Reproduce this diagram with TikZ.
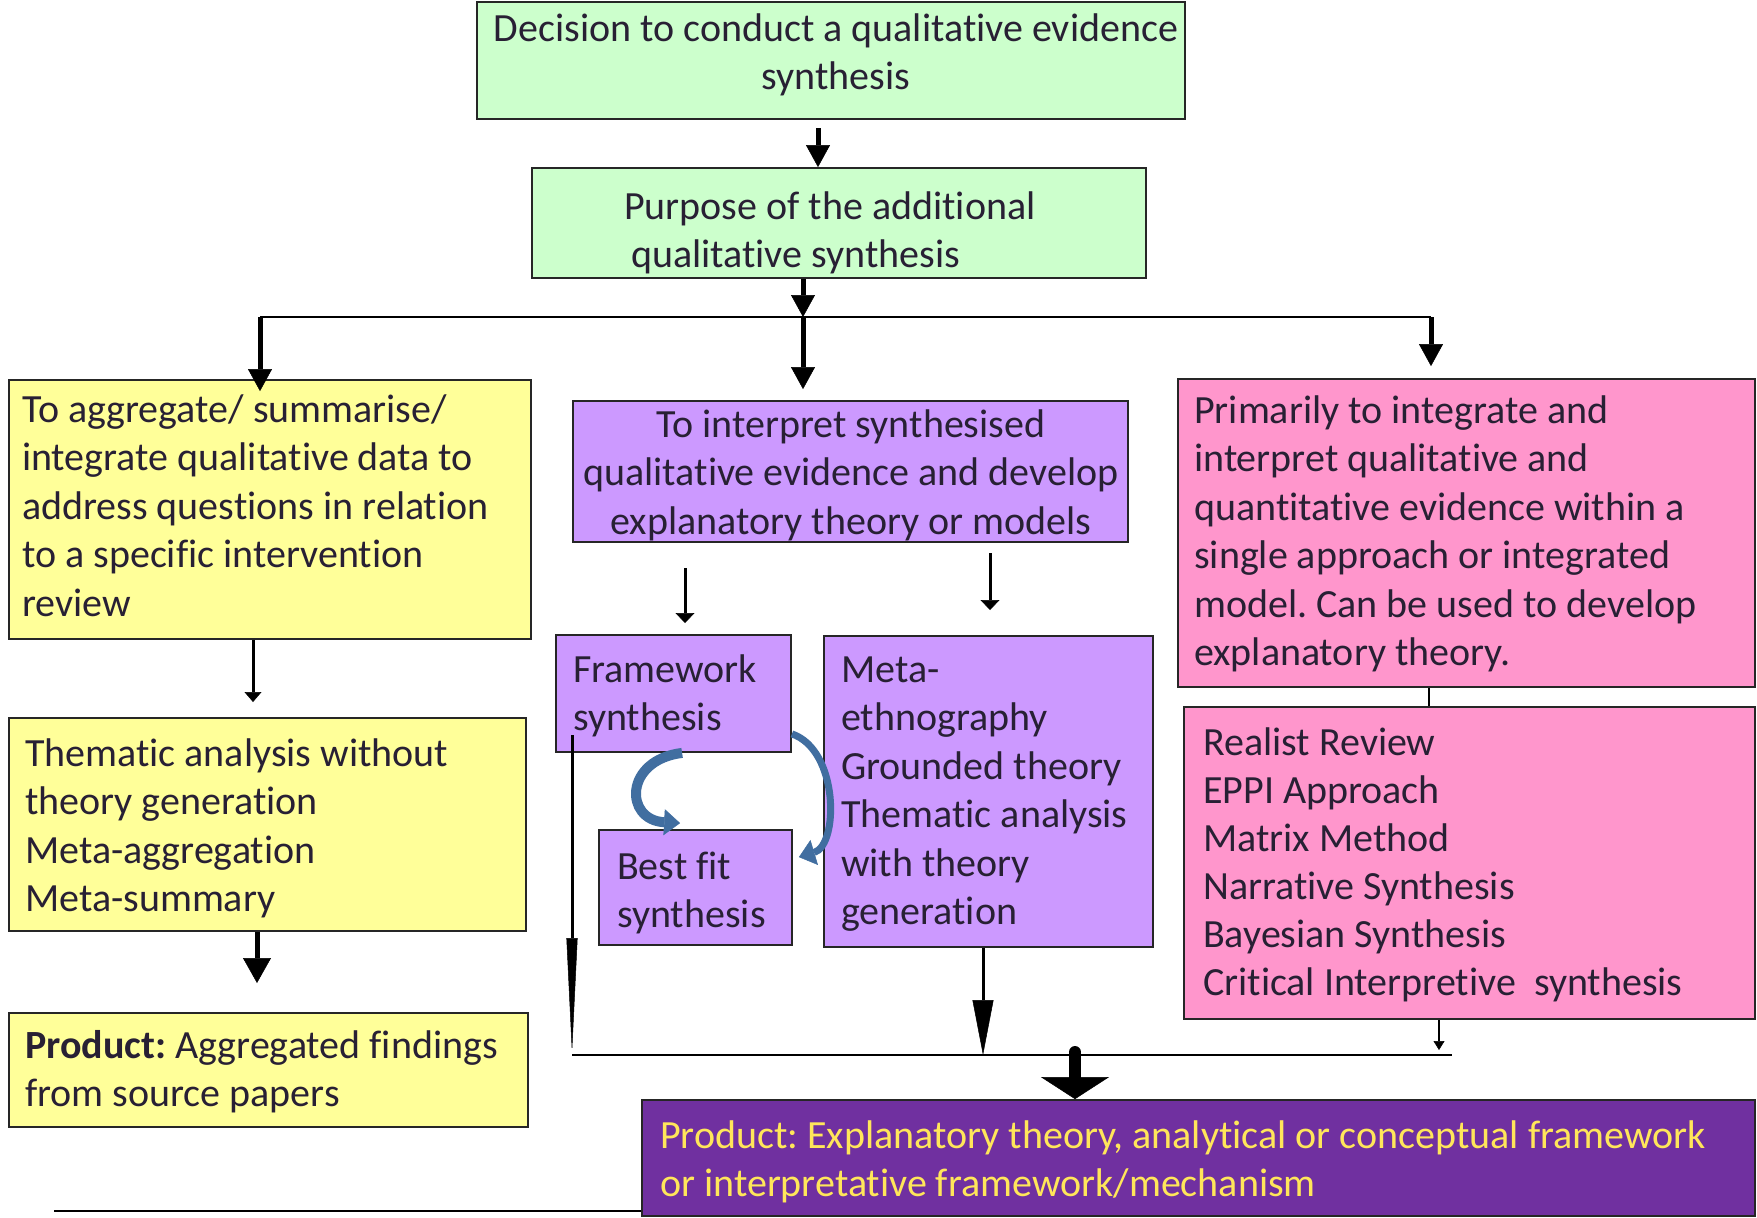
\documentclass[tikz,border=0pt]{standalone}
\usepackage{fontspec}
\setmainfont{Carlito}[Ligatures=NoCommon]
\usetikzlibrary{arrows.meta}
\definecolor{gbox}{RGB}{204,255,204}
\definecolor{ybox}{RGB}{255,255,153}
\definecolor{pbox}{RGB}{204,153,255}
\definecolor{kbox}{RGB}{255,150,204}
\definecolor{dbox}{RGB}{112,48,160}
\definecolor{ytext}{RGB}{255,230,90}
\definecolor{tcol}{RGB}{40,32,52}
\definecolor{carr}{RGB}{65,110,160}
\frenchspacing
\begin{document}
\begin{tikzpicture}[x=1pt,y=-1pt,
  box/.style={draw=black!85, line width=1.8pt, rectangle, inner sep=0pt},
  txt/.style={inner sep=0pt, font=\fontsize{40}{48.5}\selectfont\frenchspacing, text=tcol, align=left, anchor=north west},
  ctxt/.style={txt, align=center, anchor=north},
  bigarr/.style={line width=5pt, -{Triangle[width=24pt,length=22pt,line width=0.5pt]}},
  thinarr/.style={line width=3pt, -{Triangle[width=19pt,length=10pt,line width=0.5pt]}},
  plain/.style={line width=2.2pt},
  curv/.style={draw=carr, line width=10pt, -{Triangle[width=26pt,length=16pt,line width=0.5pt]}}
]
\useasboundingbox (0,0) rectangle (1757,1218);
\fill[white] (0,0) rectangle (1757,1218);

% boxes
\node[box, fill=gbox, minimum width=708pt, minimum height=117pt] (b1) at (831,60.5) {};
\node[box, fill=gbox, minimum width=614pt, minimum height=110pt] (b2) at (839,223) {};
\node[box, fill=ybox, minimum width=522pt, minimum height=259pt] (A) at (270,509.5) {};
\node[box, fill=pbox, minimum width=555pt, minimum height=141pt] (B) at (850.5,471.5) {};
\node[box, fill=kbox, minimum width=577pt, minimum height=308pt] (C) at (1466.5,533) {};
\node[box, fill=pbox, minimum width=235pt, minimum height=117pt] (Fw) at (673.5,693.5) {};
\node[box, fill=pbox, minimum width=193pt, minimum height=115pt] (Bf) at (695.5,887.5) {};
\node[box, fill=pbox, minimum width=329pt, minimum height=311pt] (Meta) at (988.5,791.5) {};
\node[box, fill=ybox, minimum width=517pt, minimum height=213pt] (D) at (267.5,824.5) {};
\node[box, fill=ybox, minimum width=519pt, minimum height=114pt] (E) at (268.5,1070) {};
\node[box, fill=kbox, minimum width=571pt, minimum height=312pt] (F) at (1469.5,863) {};
\node[box, fill=dbox, minimum width=1113pt, minimum height=116pt] (G) at (1198.5,1158) {};

% texts
\node[ctxt] (t1) at (836,7) {\strut Decision to conduct a qualitative evidence\\synthesis};
\node[txt] (t2) at (624,185) {\strut Purpose of the additional\\\hspace*{7pt}qualitative synthesis};
\node[txt] (tA) at (22,388) {\strut To aggregate/ summarise/\\integrate qualitative data to\\address questions in relation\\to a specific intervention\\review};
\node[ctxt] (tB) at (851,403) {\strut To interpret synthesised\\qualitative evidence and develop\\explanatory theory or models};
\node[txt] (tC) at (1194,389) {\strut Primarily to integrate and\\interpret qualitative and\\quantitative evidence within a\\single approach or integrated\\model. Can be used to develop\\explanatory theory.};
\node[txt] (tFw) at (573,648) {\strut Framework\\synthesis};
\node[txt] (tBf) at (617,845) {\strut Best fit\\synthesis};
\node[txt] (tMeta) at (841,648) {\strut Meta-\\ethnography\\Grounded theory\\Thematic analysis\\with theory\\generation};
\node[txt] (tD) at (25,732) {\strut Thematic analysis without\\theory generation\\Meta-aggregation\\Meta-summary};
\node[txt] (tE) at (25,1024) {\strut \textbf{Product:} Aggregated findings\\from source papers};
\node[txt, font=\fontsize{40}{48}\selectfont\frenchspacing] (tF) at (1203,722) {\strut Realist Review\\EPPI Approach\\Matrix Method\\Narrative Synthesis\\Bayesian Synthesis\\Critical Interpretive\ \ synthesis};
\node[txt, text=ytext] (tG) at (660,1114) {\strut Product: Explanatory theory, analytical or conceptual framework\\or interpretative framework/mechanism};

% coordinates
\coordinate (a1) at (818,128);
\coordinate (j) at (803,317);
\coordinate (jl) at (260,317);
\coordinate (jr) at (1431,317);
\coordinate (s1) at (685,568);
\coordinate (s1e) at (685,623);
\coordinate (s2) at (990,553);
\coordinate (s2e) at (990,610);
\coordinate (ad) at (253,702);
\coordinate (de) at (257,983);
\coordinate (fl) at (572,735);
\coordinate (bl) at (572,1055);
\coordinate (br) at (1452,1055);
\coordinate (mx) at (983,1055);
\coordinate (fx) at (1439,1050);
\coordinate (bg) at (1075,1052);
\coordinate (cf) at (1429,700);
\coordinate (pl) at (54,1211);

% connectors
\draw[bigarr] (a1) -- (a1 |- b2.north);
\draw[bigarr] (j |- b2.south) -- (j);
\draw[plain] (jl) -- (jr);
\draw[bigarr] (jl) -- ([yshift=-12pt]jl |- A.north);
\draw[bigarr] (j) -- ([yshift=11pt]j |- B.north);
\draw[bigarr] (jr) -- ([yshift=12pt]jr |- C.north);
\draw[thinarr] (s1) -- (s1e);
\draw[thinarr] (s2) -- (s2e);
\draw[line width=3pt, -{Triangle[width=17pt,length=10pt,line width=0.5pt]}] (ad |- A.south) -- (ad);
\draw[line width=5pt, -{Triangle[width=28pt,length=25pt,line width=0.5pt]}] (de |- D.south) -- (de);
\draw[line width=3pt, -{Triangle[width=11pt,length=115pt,line width=0.5pt]}] (fl) -- ([yshift=2pt]bl);
\draw[line width=3pt, -{Triangle[width=21pt,length=55pt,line width=0.5pt]}] (mx |- Meta.south) -- (mx);
\draw[line width=2pt, -{Triangle[width=11pt,length=9pt,line width=0.5pt]}] (fx |- F.south) -- (fx);
\draw[plain] (bl) -- (br);
\draw[line width=12pt, line cap=round, -{Triangle[width=68pt,length=22pt,line width=0.5pt]}] (bg) -- (bg |- G.north);
\draw[plain] (cf |- C.south) -- (cf |- F.north);
\draw[plain] (pl) -- (pl -| G.west);

% curved arrows
\draw[curv] ([xshift=127pt]Fw.south west) .. controls (624,760) and (624,820) .. ([xshift=82pt,yshift=6pt]Bf.north west);
\draw[curv, line width=7pt] ([yshift=19pt]Fw.south east) .. controls (839,750) and (839,845) .. ([xshift=6pt,yshift=-28pt]Bf.north east);
\end{tikzpicture}
\end{document}
